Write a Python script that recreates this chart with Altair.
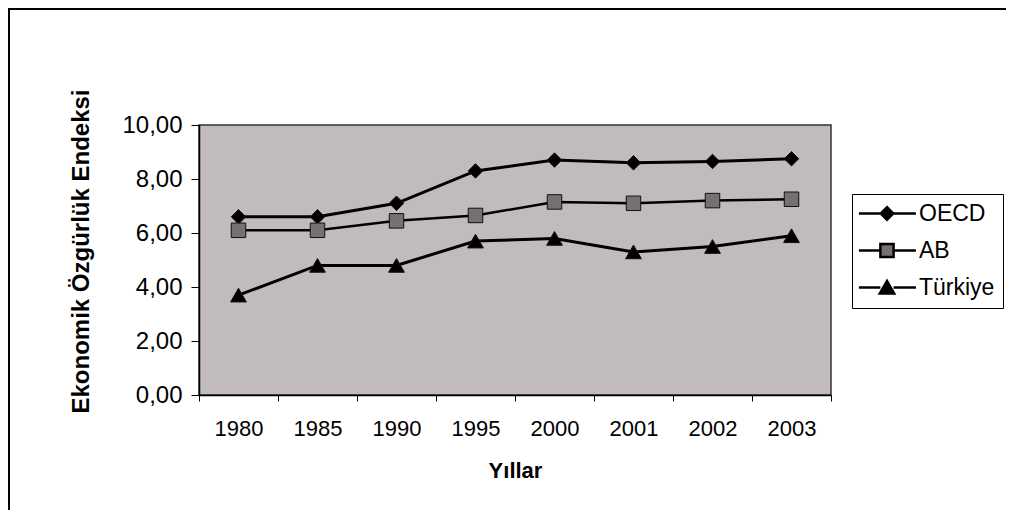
import altair as alt
import pandas as pd

years = ["1980", "1985", "1990", "1995", "2000", "2001", "2002", "2003"]
series_names = ["OECD", "AB", "Türkiye"]
oecd = [6.6, 6.6, 7.1, 8.3, 8.7, 8.6, 8.65, 8.75]
ab = [6.1, 6.1, 6.45, 6.65, 7.15, 7.1, 7.2, 7.25]
turkiye = [3.7, 4.8, 4.8, 5.7, 5.8, 5.3, 5.5, 5.9]
y_ticks = [0, 2, 4, 6, 8, 10]

rows = []
for name, vals in zip(series_names, [oecd, ab, turkiye]):
    for yr, v in zip(years, vals):
        rows.append({"year": yr, "series": name, "value": v})
df = pd.DataFrame(rows)

FONT = "Liberation Sans"
W, H = 632, 270

x_enc = alt.X("year:N", sort=years, scale=alt.Scale(domain=years, paddingInner=0, paddingOuter=0),
              axis=alt.Axis(title="Yıllar", labelAngle=0, tickBand="extent", tickSize=6,
                            labelBaseline="alphabetic", labelPadding=34,
                            titleY=82, titleBaseline="alphabetic"))
y_enc = alt.Y("value:Q", scale=alt.Scale(domain=[0, 10], nice=False),
              axis=alt.Axis(title="Ekonomik Özgürlük Endeksi", values=y_ticks, grid=False,
                            tickSize=8, labelPadding=9,
                            labelExpr="replace(format(datum.value, '.2f'), '.', ',')",
                            titleX=-111, titleY=126, titleBaseline="alphabetic"))

line_widths = {"OECD": 3, "AB": 2.5, "Türkiye": 3}
marker_fill = {"OECD": "#000000", "AB": "#777070", "Türkiye": "#000000"}
marker_shape = {"OECD": "diamond", "AB": "square", "Türkiye": "triangle-up"}
marker_size = {"OECD": 210, "AB": 210, "Türkiye": 250}

layers = []
for name in series_names:
    sub = alt.Chart(df).transform_filter(alt.datum.series == name)
    layers.append(sub.mark_line(color="#000000", strokeWidth=line_widths[name]).encode(x=x_enc, y=y_enc))
for name in series_names:
    sub = alt.Chart(df).transform_filter(alt.datum.series == name)
    layers.append(sub.mark_point(filled=True, opacity=1, shape=marker_shape[name], size=marker_size[name],
                                 fill=marker_fill[name], stroke="#111111", strokeWidth=1)
                  .encode(x=x_enc, y=y_enc))

legend_paths = [
    "M-2.1,0H1.58M3.58,0H7.4M2.58,-1.05L3.63,0L2.58,1.05L1.53,0Z",
    "M-2.1,0H1.48M3.68,0H7.4M1.48,-1.1H3.68V1.1H1.48Z",
    "M-2.1,0H1.48M3.68,0H7.4M2.58,-1.1L3.78,1H1.38Z",
]
fill_scale = alt.Scale(domain=series_names, range=[marker_fill[n] for n in series_names])
stroke_scale = alt.Scale(domain=series_names, range=["#000000", "#000000", "#000000"])
legend_shape_scale = alt.Scale(domain=series_names, range=legend_paths)

leg = alt.Legend(title=None, orient="none", legendX=653, legendY=69,
                 strokeColor="#000000", fillColor="#ffffff", padding=8,
                 labelFont=FONT, labelFontSize=23, labelColor="#000000", labelOffset=36,
                 symbolSize=144, symbolStrokeWidth=2.5,
                 symbolOpacity=1, rowPadding=12)

legend_layer = alt.Chart(df).mark_point(filled=True, opacity=0, strokeWidth=2.5).encode(
    x=x_enc, y=y_enc,
    fill=alt.Fill("series:N", scale=fill_scale, legend=leg, sort=series_names),
    stroke=alt.Stroke("series:N", scale=stroke_scale, legend=leg, sort=series_names),
    shape=alt.Shape("series:N", scale=legend_shape_scale, legend=leg, sort=series_names),
)
layers.append(legend_layer)

layers.append(alt.Chart(df).mark_rule(color="#000000", strokeWidth=1.5).encode(
    x=alt.value(-190.5), x2=alt.value(807), y=alt.value(-116.5)))
layers.append(alt.Chart(df).mark_rule(color="#000000", strokeWidth=1.5).encode(
    x=alt.value(-190.5), y=alt.value(-117), y2=alt.value(385)))

chart = alt.layer(*layers).properties(
    width=W, height=H,
    autosize=alt.AutoSizeParams(type="none"),
    padding={"left": 191, "top": 117, "right": 175, "bottom": 115},
    background="#ffffff",
).configure_view(
    fill="#c2bbbb", stroke="#333333", strokeWidth=1.5
).configure_axis(
    labelFont=FONT, titleFont=FONT, labelColor="#000000", titleColor="#000000",
    domainColor="#000000", domainWidth=1.5, tickColor="#000000", tickWidth=1,
    titleFontWeight="bold", titleFontSize=22,
).configure_axisX(
    labelFontSize=22,
).configure_axisY(
    labelFontSize=24, titleFontSize=24,
)

chart.save("out.html", embed_options={"renderer": "svg", "actions": False})
